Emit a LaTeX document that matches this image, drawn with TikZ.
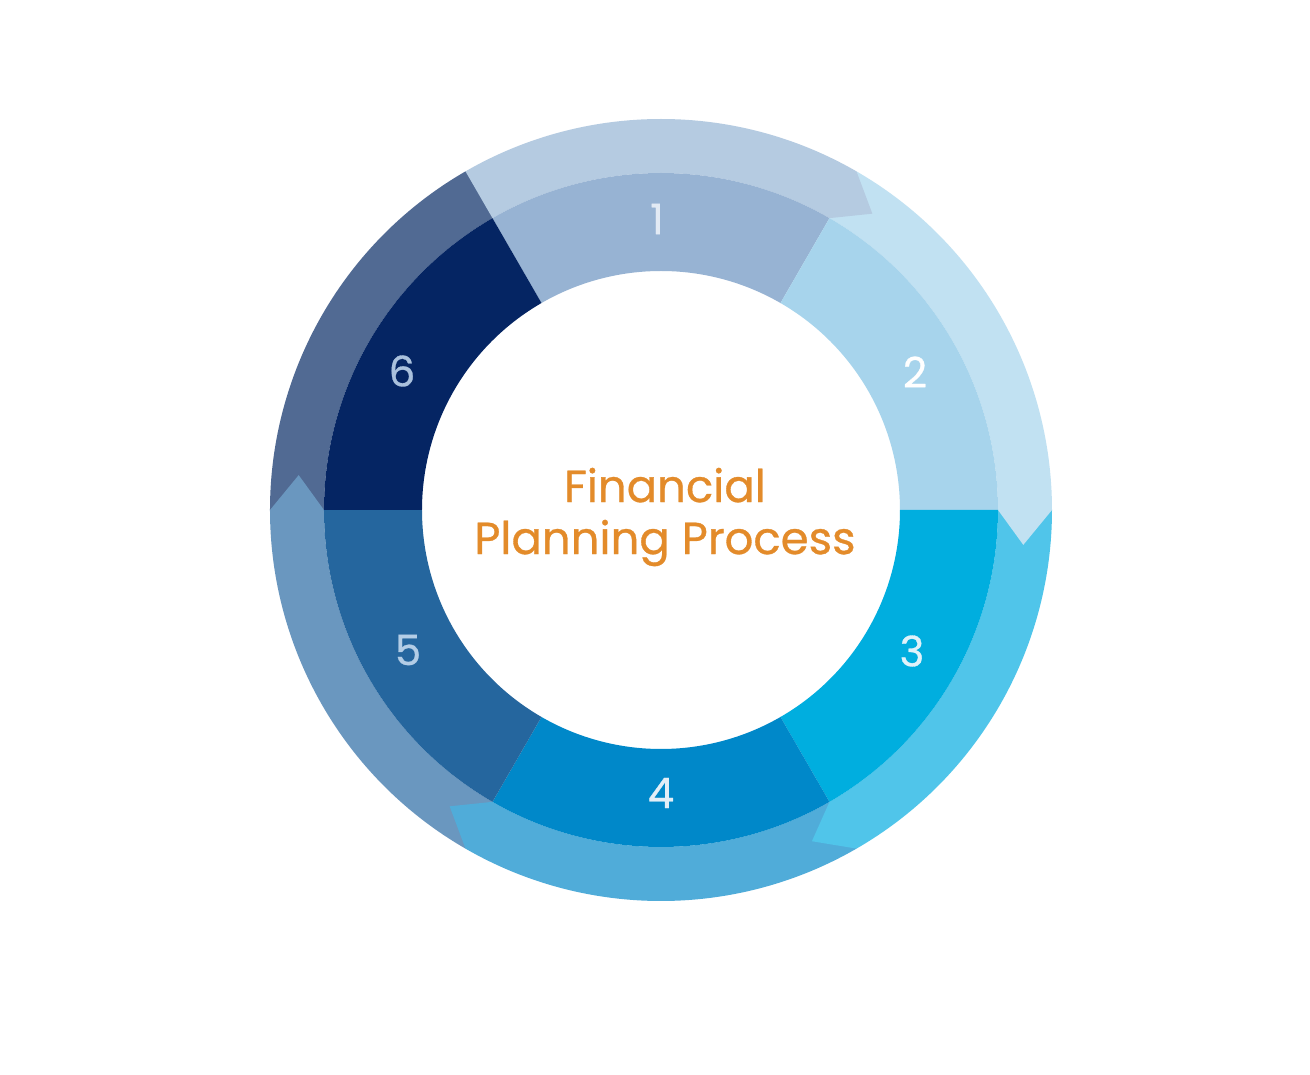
\documentclass[tikz,border=0pt]{standalone}
\usepackage{fontspec}
\setmainfont{Poppins}
\newfontfamily\medfont{Poppins}[FakeBold=0.7]
\definecolor{segA}{HTML}{97B3D3}
\definecolor{segB}{HTML}{A7D4EC}
\definecolor{segC}{HTML}{00AEDF}
\definecolor{segD}{HTML}{0088C9}
\definecolor{segE}{HTML}{25669E}
\definecolor{segF}{HTML}{052563}
\definecolor{bandA}{HTML}{B5CBE1}
\definecolor{bandB}{HTML}{C1E1F2}
\definecolor{bandC}{HTML}{50C5EA}
\definecolor{bandD}{HTML}{50ACD9}
\definecolor{bandE}{HTML}{6A97BF}
\definecolor{bandF}{HTML}{516A93}
\definecolor{numA}{HTML}{E2EAF4}
\definecolor{numB}{HTML}{FFFFFF}
\definecolor{numC}{HTML}{E0F2FA}
\definecolor{numD}{HTML}{E2EEF7}
\definecolor{numE}{HTML}{B3CDE6}
\definecolor{numF}{HTML}{AAC1DD}
\definecolor{titleorange}{HTML}{E38B2A}
\tikzset{
  numlabel/.style={font=\medfont\fontsize{42}{42}\selectfont, inner sep=0pt, anchor=center},
  titlelabel/.style={font=\medfont\fontsize{45}{52}\selectfont, text=titleorange, align=center, inner sep=0pt}
}
\newcommand{\bandshape}[2]{%
  \fill[#2] (#1:391) arc[start angle=#1, end angle=#1-60, radius=391]
    -- ({#1-65.5}:364) -- ({#1-60}:337)
    arc[start angle=#1-60, end angle=#1, radius=337] -- cycle;}
\newcommand{\segshape}[2]{%
  \fill[#2] (#1:337) arc[start angle=#1, end angle=#1-60, radius=337]
    -- ({#1-60}:239) arc[start angle=#1-60, end angle=#1, radius=239] -- cycle;}
\begin{document}
\begin{tikzpicture}[x=1pt,y=1pt]
\useasboundingbox[fill=white] (-661,-565) rectangle (649,510);
% outer arrow band (drawn so each tip lies over the next band)
\bandshape{180}{bandF}
\bandshape{240}{bandE}
\bandshape{300}{bandD}
\bandshape{0}{bandC}
\bandshape{60}{bandB}
\bandshape{120}{bandA}
% inner segments
\segshape{120}{segA}
\segshape{60}{segB}
\segshape{0}{segC}
\segshape{300}{segD}
\segshape{240}{segE}
\segshape{180}{segF}
% numbers
\node[numlabel, text=numA] (n1) at (-4,291) {1};
\node[numlabel, text=numB] (n2) at (254,138) {2};
\node[numlabel, text=numC] (n3) at (251,-141) {3};
\node[numlabel, text=numD] (n4) at (0,-283) {4};
\node[numlabel, text=numE] (n5) at (-253,-140) {5};
\node[numlabel, text=numF] (n6) at (-259,139) {6};
% title
\node[titlelabel] (title) at (4,-7) {Financial\\Planning Process};
\end{tikzpicture}
\end{document}
